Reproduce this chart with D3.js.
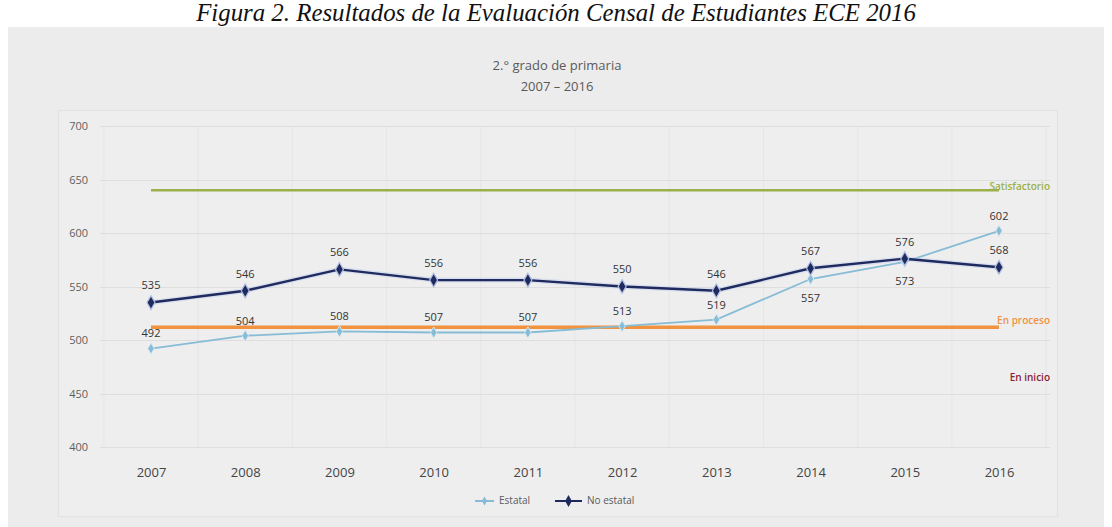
<!DOCTYPE html>
<html>
<head>
<meta charset="utf-8">
<script src="https://cdn.jsdelivr.net/npm/d3@7/dist/d3.min.js"></script>
<style>
  html, body { margin: 0; padding: 0; background: #ffffff; }
  svg { display: block; }
</style>
</head>
<body>
<svg id="chart" width="1112" height="527"></svg>
<script>
// ---- Data ----
const years = ["2007","2008","2009","2010","2011","2012","2013","2014","2015","2016"];
const estatal = [492, 504, 508, 507, 507, 513, 519, 557, 573, 602];
const noEstatal = [535, 546, 566, 556, 556, 550, 546, 567, 576, 568];
// label placement for Estatal: above or below the point
const estatalLabelPos = ["above","above","above","above","above","above","above","below","below","above"];
const yTicks = [400, 450, 500, 550, 600, 650, 700];
const levels = ["Satisfactorio", "En proceso", "En inicio"];
const levelValues = [640, 512, null];
const levelLabelValues = [643, 517, 464];
const caption = "Figura 2. Resultados de la Evaluación Censal de Estudiantes ECE 2016";
const titleLines = ["2.° grado de primaria", "2007 – 2016"];
const seriesNames = ["Estatal", "No estatal"];

// ---- Styles ----
const cEstatal = "#86bcd6";
const cNoEstatal = "#1f2b5e";
const levelColors = ["#9bb04a", "#f0923e", "#8b2232"];
const font = "'Open Sans', 'Liberation Sans', sans-serif";

const svg = d3.select("#chart");

// panel
svg.append("rect").attr("x", 8).attr("y", 27).attr("width", 1096).attr("height", 500)
  .attr("fill", "#ececec");

// caption
const cap = svg.append("text")
  .attr("x", 556).attr("y", 21)
  .attr("text-anchor", "middle")
  .style("font-family", "'Liberation Serif', 'DejaVu Serif', serif")
  .style("font-style", "italic")
  .style("font-size", "19px")
  .attr("fill", "#111")
  .text(caption);
const capW = cap.node().getComputedTextLength();
cap.style("font-size", (19 * 720 / capW).toFixed(2) + "px");

// inner plot area border
svg.append("rect").attr("x", 58.5).attr("y", 110.5).attr("width", 999).attr("height", 406)
  .attr("fill", "#eeeeee").attr("stroke", "#e2e2e2").attr("stroke-width", 1);

// title
svg.append("g").selectAll("text").data(titleLines).join("text")
  .attr("x", 557).attr("y", (d, i) => 70 + i * 21)
  .attr("text-anchor", "middle")
  .style("font-family", font).style("font-size", "13px")
  .attr("fill", "#5a5a5a")
  .text(d => d);

// scales
const x = d3.scalePoint().domain(years).range([151, 999]);
const y = d3.scaleLinear().domain([400, 700]).range([447, 126]);

// vertical faint gridlines between categories
const step = x.step();
svg.append("g").selectAll("line").data(d3.range(years.length + 1)).join("line")
  .attr("x1", i => 151 - step / 2 + i * step).attr("x2", i => 151 - step / 2 + i * step)
  .attr("y1", 126).attr("y2", 447)
  .attr("stroke", "#e6e6e6").attr("stroke-width", 1);

// horizontal gridlines
svg.append("g").selectAll("line").data(yTicks).join("line")
  .attr("x1", 100).attr("x2", 1050)
  .attr("y1", d => Math.round(y(d)) + 0.5).attr("y2", d => Math.round(y(d)) + 0.5)
  .attr("stroke", "#dedede").attr("stroke-width", 1);

// y axis labels
const yAxis = d3.axisLeft(y).tickValues(yTicks).tickSize(0).tickPadding(0);
const gy = svg.append("g").attr("transform", "translate(88,0)").call(yAxis);
gy.select(".domain").remove();
gy.selectAll("text").style("font-family", font).style("font-size", "11px").attr("fill", "#5e5e5e");

// x axis labels
const xAxis = d3.axisBottom(x).tickSize(0).tickPadding(0);
const gx = svg.append("g").attr("transform", "translate(0,468)").call(xAxis);
gx.select(".domain").remove();
gx.selectAll("text").style("font-family", font).style("font-size", "13px").attr("fill", "#444");

// reference level lines
const xs = x(years[0]), xe = x(years[years.length - 1]);
svg.append("line").attr("x1", xs).attr("x2", xe)
  .attr("y1", y(levelValues[0])).attr("y2", y(levelValues[0]))
  .attr("stroke", levelColors[0]).attr("stroke-width", 2.5);
svg.append("line").attr("x1", xs).attr("x2", xe)
  .attr("y1", y(levelValues[1])).attr("y2", y(levelValues[1]))
  .attr("stroke", levelColors[1]).attr("stroke-width", 3.5);

// level labels
svg.append("g").selectAll("text").data(levels).join("text")
  .attr("x", 1050).attr("y", (d, i) => y(levelLabelValues[i]))
  .attr("text-anchor", "end").attr("dominant-baseline", "middle")
  .style("font-family", font).style("font-size", "10px").style("font-weight", "600")
  .attr("fill", (d, i) => levelColors[i])
  .text(d => d);

// lines
const line = d3.line().x(d => x(d[0])).y(d => y(d[1]));
const estData = years.map((yr, i) => [yr, estatal[i]]);
const noData = years.map((yr, i) => [yr, noEstatal[i]]);

svg.append("path").datum(estData).attr("d", line)
  .attr("fill", "none").attr("stroke", cEstatal).attr("stroke-width", 1.8);
svg.append("path").datum(noData).attr("d", line)
  .attr("fill", "none").attr("stroke", "#c9d3ec").attr("stroke-width", 5).attr("opacity", 0.6);
svg.append("path").datum(noData).attr("d", line)
  .attr("fill", "none").attr("stroke", cNoEstatal).attr("stroke-width", 2.4);

// markers
const diamond = d3.symbol().type(d3.symbolDiamond);
svg.append("g").selectAll("path").data(estData).join("path")
  .attr("transform", d => `translate(${x(d[0])},${y(d[1])})`)
  .attr("d", diamond.size(36)())
  .attr("fill", cEstatal).attr("stroke", "#d6e8f2").attr("stroke-width", 1);
svg.append("g").selectAll("path").data(noData).join("path")
  .attr("transform", d => `translate(${x(d[0])},${y(d[1])})`)
  .attr("d", diamond.size(55)())
  .attr("fill", cNoEstatal).attr("stroke", "#aebde0").attr("stroke-width", 1.2);

// data labels
svg.append("g").selectAll("text").data(noData).join("text")
  .attr("x", d => x(d[0])).attr("y", d => y(d[1]) - 16)
  .attr("text-anchor", "middle").attr("dominant-baseline", "middle")
  .style("font-family", font).style("font-size", "11px")
  .attr("fill", "#333")
  .text(d => d[1]);
svg.append("g").selectAll("text").data(estData).join("text")
  .attr("x", d => x(d[0]))
  .attr("y", (d, i) => y(d[1]) + (estatalLabelPos[i] === "above" ? -14 : 20))
  .attr("text-anchor", "middle").attr("dominant-baseline", "middle")
  .style("font-family", font).style("font-size", "11px")
  .attr("fill", "#333")
  .text(d => d[1]);

// legend
const lg = svg.append("g");
const legendItems = [
  { name: seriesNames[0], color: cEstatal, x0: 475, x1: 494, size: 24 },
  { name: seriesNames[1], color: cNoEstatal, x0: 555, x1: 582, size: 40 }
];
legendItems.forEach(it => {
  lg.append("line").attr("x1", it.x0).attr("x2", it.x1).attr("y1", 501).attr("y2", 501)
    .attr("stroke", it.color).attr("stroke-width", 2);
  lg.append("path").attr("transform", `translate(${(it.x0 + it.x1) / 2},501)`)
    .attr("d", d3.symbol().type(d3.symbolDiamond).size(it.size)())
    .attr("fill", it.color);
  lg.append("text").attr("x", it.x1 + 5).attr("y", 501).attr("dominant-baseline", "middle")
    .style("font-family", font).style("font-size", "10px").attr("fill", "#5a5a5a")
    .text(it.name);
});
</script>
</body>
</html>
